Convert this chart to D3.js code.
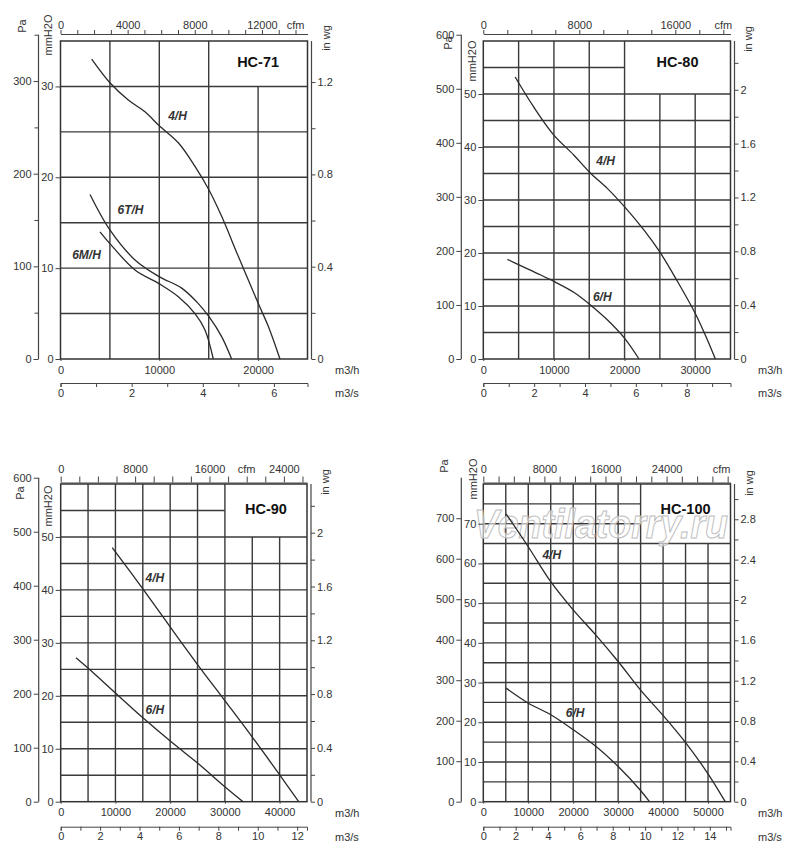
<!DOCTYPE html>
<html><head><meta charset="utf-8">
<script src="https://cdn.jsdelivr.net/npm/d3@7"></script>
<style>body{margin:0;background:#fff}</style>
</head><body>
<svg id="c" width="800" height="852" xmlns="http://www.w3.org/2000/svg"></svg>
<script>
// ---------------- DATA ----------------
const panelNames = ["HC-71", "HC-80", "HC-90", "HC-100"];
const flowMax = [25000, 35000, 45000, 55000];          // m3/h
const mmMax = [35, 60, 60, 80];                         // mmH2O
const paMax = [350, 600, 600, 800];                     // Pa axis extent
const boxFlow = [15000, 20000, 30000, 35000];           // title box lower-left corner
const boxMm = [30, 50, 50, 65];
const titleMm = [32.7, 56, 55.2, 73.6];

const paTicks = [[0,100,200,300],[0,100,200,300,400,500,600],[0,100,200,300,400,500,600],[0,100,200,300,400,500,600,700]];
const paMinorTicks = [[50,150,250,350],[],[],[]];
const mmTicks = [[0,10,20,30],[0,10,20,30,40,50],[0,10,20,30,40,50],[0,10,20,30,40,50,60,70]];
const inwgLabels = [[0,0.4,0.8,1.2],[0,0.4,0.8,1.2,1.6,2],[0,0.4,0.8,1.2,1.6,2],[0,0.4,0.8,1.2,1.6,2,2.4,2.8]];
const inwgMinor = [[0.2,0.6,1.0],[0.2,0.6,1.0,1.4,1.8,2.2],[0.2,0.6,1.0,1.4,1.8,2.2],[0.2,0.6,1.0,1.4,1.8,2.2,2.6,3.0]];
const m3hLabels = [[0,10000,20000],[0,10000,20000,30000],[0,10000,20000,30000,40000],[0,10000,20000,30000,40000,50000]];
const m3sTicks = [[0,1,2,3,4,5,6],[0,1,2,3,4,5,6,7,8,9],[0,1,2,3,4,5,6,7,8,9,10,11,12],[0,1,2,3,4,5,6,7,8,9,10,11,12,13,14,15]];
const m3sLabels = [[0,2,4,6],[0,2,4,6,8],[0,2,4,6,8,10,12],[0,2,4,6,8,10,12,14]];
const cfmStep = [1000, 2000, 2000, 2000];
const cfmLabels = [[0,4000,8000,12000],[0,8000,16000],[0,8000,16000,24000],[0,8000,16000,24000]];
const cfmUnitAt = [14000, 20000, 20000, 31200];

// curves: [flow m3/h, pressure mmH2O]
const hc71_4H = [[3158,33.0],[5000,30.4],[6862,28.5],[8552,27.2],[9970,25.7],[11925,23.8],[13613,21.2],[15030,18.6],[16310,15.7],[17995,11.3],[20020,6.1],[21030,3.6],[22214,0]];
const hc71_6T = [[2985,18.1],[5000,14.2],[7540,10.9],[9970,9.07],[12265,7.8],[13950,6.1],[15030,4.66],[16310,2.46],[17320,0]];
const hc71_6M = [[3998,14.0],[5000,12.7],[7540,9.8],[9970,8.3],[11925,6.86],[13613,5.0],[14624,3.2],[15465,0]];
const hc80_4H = [[4509,53.2],[7112,47.6],[9957,42.3],[12802,38.5],[15078,35.2],[17553,32.2],[20014,28.7],[22760,24.3],[25036,20.1],[27510,14.6],[30014,8.6],[31536,4.2],[32859,0]];
const hc80_6H = [[3414,18.8],[4979,17.8],[8065,15.9],[10057,14.6],[12802,12.6],[15078,10.3],[17553,7.4],[20014,3.9],[22048,0]];
const hc90_4H = [[9416,48.0],[15073,40.1],[20000,33.0],[25000,25.9],[29982,19.1],[35000,12.2],[40018,5.06],[43485,0]];
const hc90_6H = [[2792,27.2],[4927,25.3],[10036,20.5],[15073,15.8],[20073,11.4],[25000,7.3],[29982,2.84],[33321,0]];
const hc100_4H = [[5056,72.5],[10000,64.2],[15000,55.4],[20000,48.3],[25000,42.0],[30000,35.3],[35000,28.1],[40089,21.6],[44922,15.0],[49889,7.2],[53830,0]];
const hc100_6H = [[5056,28.6],[10022,24.8],[15011,21.9],[20045,18.1],[25100,13.9],[30067,8.8],[34900,2.95],[36970,0]];

const curveNames = [["4/H","6T/H","6M/H"],["4/H","6/H"],["4/H","6/H"],["4/H","6/H"]];
const curveData = [[hc71_4H, hc71_6T, hc71_6M],[hc80_4H, hc80_6H],[hc90_4H, hc90_6H],[hc100_4H, hc100_6H]];
const curveLabelAt = [[[11842,26.7],[7085,16.4],[2632,11.5]],[[17311,37.4],[16842,11.75]],[[17208,42.2],[17208,17.3]],[[15234,62.1],[20423,22.3]]];

// unit conversions
const PA_PER_MM = 9.80665, MM_PER_INWG = 25.4, CFM_PER_M3H = 0.588578, M3H_PER_M3S = 3600;

// ---------------- LAYOUT ----------------
const layout = [
  {L:60.5, R:307.5, T:41, B:359, cfmY:34, cfmTick:4, cfmPad:1, m3sY:383, unitX:335,
   pa:[22,26], mm:[48,35], inwg:[326,38]},
  {L:483.3, R:730.5, T:41, B:359, cfmY:34, cfmTick:4, cfmPad:1, m3sY:383, unitX:758,
   pa:[448,43], mm:[472,61], inwg:[748,39]},
  {L:60.7, R:307, T:484, B:801.7, cfmY:482.5, cfmTick:6, cfmPad:4, m3sY:826.7, unitX:335,
   pa:[20,493], mm:[48,506], inwg:[325,482]},
  {L:483.3, R:730.5, T:484, B:801.7, cfmY:482.5, cfmTick:6, cfmPad:4, m3sY:826.7, unitX:758,
   pa:[444,466], mm:[473,479], inwg:[749,483]}
];

const FONT = "'Liberation Sans', Arial, sans-serif";
const TXT = "#333";
const svg = d3.select("#c");
svg.append("rect").attr("width",800).attr("height",852).attr("fill","#fff");

function styleAxis(sel){
  sel.selectAll("text").attr("font-family",FONT).attr("font-size",11).attr("fill",TXT);
  sel.selectAll("line").attr("stroke","#444").attr("stroke-width",1);
  sel.selectAll("path.domain").attr("stroke","#444").attr("stroke-width",1);
}
const near = (arr,d) => arr.some(v => Math.abs(v-d) < 1e-6);

layout.forEach((p,i) => {
  const g = svg.append("g");
  const x = d3.scaleLinear([0, flowMax[i]], [p.L, p.R]);
  const y = d3.scaleLinear([0, mmMax[i]], [p.B, p.T]);
  const yPa = d3.scaleLinear([0, mmMax[i]*PA_PER_MM], [p.B, p.T]);
  const yIn = d3.scaleLinear([0, mmMax[i]/MM_PER_INWG], [p.B, p.T]);
  const xCfm = d3.scaleLinear([0, flowMax[i]*CFM_PER_M3H], [p.L, p.R]);
  const xS = d3.scaleLinear([0, flowMax[i]/M3H_PER_M3S], [p.L, p.R]);

  // grid
  const grid = g.append("g").attr("stroke","#3a3a3a").attr("stroke-width",1.4);
  d3.range(5000, flowMax[i], 5000).forEach(v => {
    grid.append("line").attr("x1",x(v)).attr("x2",x(v)).attr("y1",p.B)
      .attr("y2", v > boxFlow[i] ? y(boxMm[i]) : p.T);
  });
  d3.range(5, mmMax[i], 5).forEach(h => {
    grid.append("line").attr("y1",y(h)).attr("y2",y(h)).attr("x1",p.L)
      .attr("x2", h > boxMm[i] ? x(boxFlow[i]) : p.R);
  });
  g.append("rect").attr("x",p.L).attr("y",p.T).attr("width",p.R-p.L).attr("height",p.B-p.T)
    .attr("fill","none").attr("stroke","#333").attr("stroke-width",1.5);

  // watermark (only last chart)
  if (i === 3) {
    g.append("text").attr("x",474).attr("y",538).text("Ventilatorry.ru")
      .attr("font-family",FONT).attr("font-style","italic").attr("font-weight","bold").attr("font-size",40)
      .attr("textLength",254).attr("lengthAdjust","spacingAndGlyphs")
      .attr("fill","#fff").attr("fill-opacity",0.6).attr("stroke","#bdbdbd").attr("stroke-width",1);
  }

  // curves
  const line = d3.line().x(d => x(d[0])).y(d => y(d[1])).curve(d3.curveCatmullRom.alpha(0.5));
  curveData[i].forEach((data, k) => {
    g.append("path").attr("d", line(data)).attr("fill","none")
      .attr("stroke","#2a2a2a").attr("stroke-width",1.3);
    const at = curveLabelAt[i][k];
    g.append("text").attr("x", x(at[0])).attr("y", y(at[1]))
      .attr("text-anchor","middle").attr("dominant-baseline","central")
      .attr("font-family",FONT).attr("font-size",12).attr("font-style","italic").attr("font-weight","bold")
      .attr("fill","#333").text(curveNames[i][k]);
  });

  // title
  g.append("text").attr("x", x((boxFlow[i]+flowMax[i])/2)).attr("y", y(titleMm[i]))
    .attr("text-anchor","middle").attr("dominant-baseline","central")
    .attr("font-family",FONT).attr("font-size",14.5).attr("font-weight","bold").attr("fill","#111")
    .text(panelNames[i]);

  // mmH2O axis (left border)
  const aMm = g.append("g").attr("transform",`translate(${p.L},0)`)
    .call(d3.axisLeft(y).tickValues(mmTicks[i]).tickSize(5).tickPadding(2).tickFormat(d => String(d)));
  aMm.select(".domain").remove(); styleAxis(aMm);

  // Pa axis
  const paX = p.L - 22;
  const aPa = g.append("g").attr("transform",`translate(${paX},0)`)
    .call(d3.axisLeft(yPa).tickValues(paTicks[i]).tickSize(5).tickPadding(2).tickFormat(d => String(d)));
  aPa.select(".domain").remove(); styleAxis(aPa);
  if (paMinorTicks[i].length) {
    const aPm = g.append("g").attr("transform",`translate(${paX},0)`)
      .call(d3.axisLeft(yPa).tickValues(paMinorTicks[i]).tickSize(4).tickFormat(""));
    aPm.select(".domain").remove(); styleAxis(aPm);
  }
  g.append("line").attr("x1",paX).attr("x2",paX).attr("y1",yPa(0)).attr("y2",yPa(paMax[i]))
    .attr("stroke","#444").attr("stroke-width",1.2);

  // in wg axis
  const inX = p.R + 4;
  const allIn = inwgLabels[i].concat(inwgMinor[i]);
  const aIn = g.append("g").attr("transform",`translate(${inX},0)`)
    .call(d3.axisRight(yIn).tickValues(allIn).tickSize(4).tickPadding(2)
      .tickFormat(d => near(inwgLabels[i], d) ? String(d) : ""));
  aIn.select(".domain").remove(); styleAxis(aIn);
  g.append("line").attr("x1",inX).attr("x2",inX).attr("y1",p.B).attr("y2",p.T)
    .attr("stroke","#444").attr("stroke-width",1.2);

  // cfm axis (top)
  const cfmAll = d3.range(0, flowMax[i]*CFM_PER_M3H, cfmStep[i]);
  const aC = g.append("g").attr("transform",`translate(0,${p.cfmY})`)
    .call(d3.axisTop(xCfm).tickValues(cfmAll).tickSize(p.cfmTick).tickSizeOuter(0).tickPadding(p.cfmPad)
      .tickFormat(d => cfmLabels[i].includes(d) ? String(d) : ""));
  styleAxis(aC);
  g.append("text").attr("x", xCfm(cfmUnitAt[i])).attr("y", p.cfmY - p.cfmTick - p.cfmPad)
    .attr("text-anchor","middle").attr("font-family",FONT).attr("font-size",11).attr("fill",TXT).text("cfm");

  // m3/h axis (bottom border)
  const aH = g.append("g").attr("transform",`translate(0,${p.B})`)
    .call(d3.axisBottom(x).tickValues(m3hLabels[i]).tickSize(2).tickPadding(5).tickFormat(d => String(d)));
  aH.select(".domain").remove(); styleAxis(aH);
  g.append("text").attr("x", p.unitX).attr("y", p.B + 11).attr("dominant-baseline","central")
    .attr("font-family",FONT).attr("font-size",11).attr("fill",TXT).text("m3/h");

  // m3/s axis
  const aS = g.append("g").attr("transform",`translate(0,${p.m3sY})`)
    .call(d3.axisBottom(xS).tickValues(m3sTicks[i]).tickSize(4).tickSizeOuter(4).tickPadding(2)
      .tickFormat(d => m3sLabels[i].includes(d) ? String(d) : ""));
  styleAxis(aS);
  g.append("text").attr("x", p.unitX).attr("y", p.m3sY + 10).attr("dominant-baseline","central")
    .attr("font-family",FONT).attr("font-size",11).attr("fill",TXT).text("m3/s");

  // rotated unit titles
  [["Pa", p.pa], ["mmH2O", p.mm], ["in wg", p.inwg]].forEach(([t, pos]) => {
    g.append("text").attr("transform",`translate(${pos[0]},${pos[1]}) rotate(-90)`)
      .attr("text-anchor","middle").attr("dominant-baseline","central")
      .attr("font-family",FONT).attr("font-size",11).attr("fill",TXT).text(t);
  });
});
</script>
</body></html>
